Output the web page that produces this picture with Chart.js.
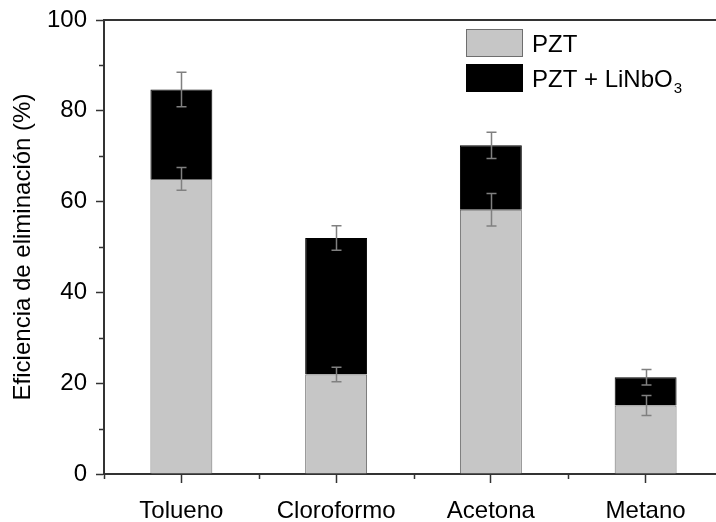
<!DOCTYPE html>
<html>
<head>
<meta charset="utf-8">
<script src="https://cdn.jsdelivr.net/npm/chart.js@4/dist/chart.umd.min.js"></script>
<style>
  html, body { margin: 0; padding: 0; background: #fff; overflow: hidden; }
  #wrap { width: 724px; height: 522px; }
</style>
</head>
<body>
<div id="wrap"><canvas id="chart" width="724" height="522"></canvas></div>
<script>
// data
const categories = ['Tolueno', 'Cloroformo', 'Acetona', 'Metano'];
const pzt = [65.0, 21.9, 58.2, 15.1];
const pztErr = [2.5, 1.6, 3.6, 2.2];
const total = [84.7, 52.0, 72.4, 21.3];   // PZT + LiNbO3 (top of stack)
const totalErr = [3.8, 2.7, 2.9, 1.7];
const yMinorTicks = [10, 30, 50, 70, 90];

const FONT = '"Liberation Sans", Arial, sans-serif';
const AXIS = '#333333';

// stacked segment on top of PZT
const linbo = total.map((t, i) => +(t - pzt[i]).toFixed(1));

// -------------------------- plugins --------------------------

const extras = {
  id: 'extras',
  afterDatasetsDraw(chart) {
    const { ctx, chartArea, scales: { x, y } } = chart;
    ctx.save();

    // error bars
    ctx.strokeStyle = '#808080';
    ctx.lineWidth = 1.5;
    const cap = 5;
    const drawErr = (i, v, e) => {
      const cx = Math.round(x.getPixelForValue(i)) + 0.5;
      const y1 = y.getPixelForValue(v + e), y2 = y.getPixelForValue(v - e);
      ctx.beginPath();
      ctx.moveTo(cx, y1); ctx.lineTo(cx, y2);
      ctx.moveTo(cx - cap, y1); ctx.lineTo(cx + cap, y1);
      ctx.moveTo(cx - cap, y2); ctx.lineTo(cx + cap, y2);
      ctx.stroke();
    };
    categories.forEach((_, i) => {
      drawErr(i, pzt[i], pztErr[i]);
      drawErr(i, total[i], totalErr[i]);
    });

    // top frame line
    ctx.strokeStyle = AXIS;
    ctx.lineWidth = 2;
    ctx.beginPath();
    ctx.moveTo(chartArea.left - 1, chartArea.top);
    ctx.lineTo(chartArea.right, chartArea.top);
    ctx.stroke();

    // minor ticks
    ctx.lineWidth = 1.5;
    ctx.beginPath();
    yMinorTicks.forEach(v => {
      const py = Math.round(y.getPixelForValue(v)) + 0.5;
      ctx.moveTo(chartArea.left - 5, py); ctx.lineTo(chartArea.left, py);
    });
    for (let i = -0.5; i < categories.length; i += 1) {
      const px = Math.round(x.getPixelForValue(i)) + 0.5;
      ctx.moveTo(px, chartArea.bottom); ctx.lineTo(px, chartArea.bottom + 5);
    }
    ctx.stroke();

    // legend
    const lx = 466, ly = 29, bw = 57, bh = 28, gap = 35;
    chart.data.datasets.forEach((ds, k) => {
      const by = ly + k * gap;
      ctx.fillStyle = ds.backgroundColor;
      ctx.fillRect(lx, by, bw, bh);
      ctx.strokeStyle = ds.borderColor;
      ctx.lineWidth = 1;
      ctx.strokeRect(lx + 0.5, by + 0.5, bw - 1, bh - 1);
      ctx.fillStyle = '#000';
      ctx.font = '24px ' + FONT;
      ctx.textBaseline = 'alphabetic';
      ctx.textAlign = 'left';
      const base = by + 23;
      ctx.fillText(ds.label, 532, base);
      if (ds.sub) {
        const w = ctx.measureText(ds.label).width;
        ctx.font = '15px ' + FONT;
        ctx.fillText(ds.sub, 532 + w + 1, base + 6);
      }
    });
    ctx.restore();
  }
};

// -------------------------- chart --------------------------

new Chart(document.getElementById('chart'), {
  type: 'bar',
  data: {
    labels: categories,
    datasets: [
      { label: 'PZT', data: pzt, backgroundColor: '#c6c6c6', borderColor: '#6e6e6e', borderWidth: 1 },
      { label: 'PZT + LiNbO', sub: '3', data: linbo, backgroundColor: '#000000', borderColor: '#000000', borderWidth: 1 }
    ]
  },
  options: {
    responsive: false,
    animation: false,
    layout: { padding: { top: 20, right: 1, left: 0, bottom: 0 } },
    barPercentage: 0.4,
    categoryPercentage: 1.0,
    plugins: { legend: { display: false }, tooltip: { enabled: false } },
    scales: {
      x: {
        stacked: true,
        offset: true,
        afterFit(s) { s.height = 48; s.paddingLeft = 0; s.paddingRight = 0; },
        grid: { offset: false, drawOnChartArea: false, tickLength: 9, tickColor: AXIS, tickWidth: 1.5 },
        border: { color: AXIS, width: 2 },
        ticks: { color: '#000', font: { family: FONT, size: 24 }, padding: 14, maxRotation: 0 }
      },
      y: {
        stacked: true,
        min: 0,
        max: 100,
        afterFit(s) { s.width = 104; s.paddingTop = 0; s.paddingBottom = 0; },
        grid: { drawOnChartArea: false, tickLength: 8, tickColor: AXIS, tickWidth: 1.5 },
        border: { color: AXIS, width: 2 },
        ticks: { stepSize: 20, color: '#000', font: { family: FONT, size: 24 }, padding: 9 },
        title: {
          display: true,
          text: 'Eficiencia de eliminación (%)',
          color: '#000',
          font: { family: FONT, size: 24 },
          padding: { top: 9, bottom: 0 }
        }
      }
    }
  },
  plugins: [extras]
});
</script>
</body>
</html>
